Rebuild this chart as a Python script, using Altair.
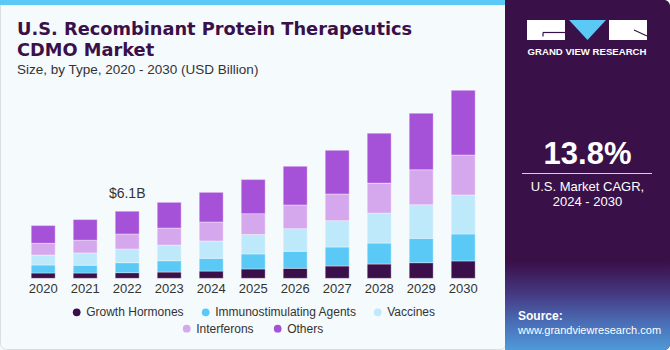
import altair as alt
import pandas as pd

# ---------------- data ----------------
years = [2020, 2021, 2022, 2023, 2024, 2025, 2026, 2027, 2028, 2029, 2030]
types = ["Growth Hormones", "Immunostimulating Agents", "Vaccines", "Interferons", "Others"]
growth_hormones = [0.48, 0.48, 0.51, 0.57, 0.66, 0.85, 0.91, 1.12, 1.30, 1.42, 1.58]
immunostimulating = [0.73, 0.71, 0.91, 1.03, 1.16, 1.37, 1.55, 1.73, 1.91, 2.22, 2.46]
vaccines = [0.91, 1.12, 1.25, 1.43, 1.58, 1.76, 2.06, 2.40, 2.73, 3.06, 3.55]
interferons = [1.07, 1.16, 1.37, 1.55, 1.73, 1.91, 2.16, 2.43, 2.73, 3.19, 3.64]
others = [1.61, 1.88, 2.07, 2.34, 2.70, 3.10, 3.52, 3.98, 4.55, 5.14, 5.89]
label_years = ["2022"]
label_texts = ["$6.1B"]
cagr_text = "13.8%"

series = [growth_hormones, immunostimulating, vaccines, interferons, others]
colors = ["#3A0F4A", "#5BC9F6", "#BDE9FA", "#D5A8EE", "#A652D8"]

rows = []
for i, t in enumerate(types):
    for yr, v in zip(years, series[i]):
        rows.append({"year": str(yr), "type": t, "value": v, "order": i})
df = pd.DataFrame(rows)
totals = pd.DataFrame({
    "year": [str(y) for y in years],
    "total": [sum(s[j] for s in series) for j in range(len(years))],
})
lab_df = pd.DataFrame({"year": label_years, "text": label_texts}).merge(totals, on="year")
year_df = pd.DataFrame({"year": [str(y) for y in years]})

# ---------------- styles ----------------
BG = "#F5FAFD"
PURPLE = "#3A1049"
FONT = "Liberation Sans"

xscale = alt.Scale(domain=[str(y) for y in years], range=[22.2, 484.2],
                   paddingInner=0.43, paddingOuter=0.215)
yscale = alt.Scale(domain=[0, 25.35], range=[278.3, 0], nice=False, zero=True)

one = pd.DataFrame({"a": [0]})


def box(x1, x2, y1, y2, **kw):
    return alt.Chart(one).mark_rect(**kw).encode(
        x=alt.value(x1), x2=alt.value(x2), y=alt.value(y1), y2=alt.value(y2))


def label(x, y, text, font=FONT, **kw):
    return alt.Chart(one).mark_text(text=text, font=font, **kw).encode(
        x=alt.value(x), y=alt.value(y))


layers = []
# left panel border
layers.append(box(0.5, 506, -6, 349.5, fill=BG, stroke="#D9DEE2", strokeWidth=1, cornerRadius=6))
# top strip
layers.append(box(0, 506, 0, 5, color="#5BC9F6"))
# right panel
layers.append(box(505, 670, 0, 350, color=PURPLE, cornerRadiusTopRight=6, cornerRadiusBottomRight=6))
layers.append(box(505, 670, 262, 350, cornerRadiusBottomRight=6, color=alt.Gradient(
    gradient="linear", x1=0, x2=0, y1=0, y2=1,
    stops=[alt.GradientStop(color=PURPLE, offset=0),
           alt.GradientStop(color="#45377F", offset=0.35),
           alt.GradientStop(color="#4A6FB8", offset=0.7),
           alt.GradientStop(color="#4E9AD8", offset=1)])))

# logo
layers.append(box(527, 565, 20, 40, color="white"))
layers.append(box(609, 647, 20, 40, color="white"))
layers.append(alt.Chart(one).mark_rule(color=PURPLE, strokeWidth=1.2).encode(
    x=alt.value(543), x2=alt.value(565), y=alt.value(32.5)))
layers.append(alt.Chart(one).mark_rule(color=PURPLE, strokeWidth=1.2).encode(
    x=alt.value(543), y=alt.value(32.5), y2=alt.value(36.5)))
layers.append(alt.Chart(one).mark_rule(color=PURPLE, strokeWidth=1.2).encode(
    x=alt.value(634), x2=alt.value(647), y=alt.value(30), y2=alt.value(36)))
layers.append(alt.Chart(one).mark_point(
    shape="M -1 -0.54 L 1 -0.54 L 0 0.54 Z", filled=True, opacity=1, size=1369,
    color="#5BC9F6").encode(x=alt.value(587.5), y=alt.value(30)))
layers.append(label(587, 52, "GRAND VIEW RESEARCH", fontSize=9.6, fontWeight="bold",
                    color="white", align="center", baseline="middle"))

# CAGR block
layers.append(label(587.5, 155, cagr_text, fontSize=31, fontWeight="bold", color="white",
                    align="center", baseline="middle"))
layers.append(alt.Chart(one).mark_rule(color="#D8D0DE", strokeWidth=1).encode(
    x=alt.value(522), x2=alt.value(652), y=alt.value(173.5)))
layers.append(label(587.5, 186.5, "U.S. Market CAGR,", fontSize=13, color="white",
                    align="center", baseline="middle"))
layers.append(label(587.5, 201.5, "2024 - 2030", fontSize=13, color="white",
                    align="center", baseline="middle"))
layers.append(label(518, 316, "Source:", fontSize=12, fontWeight="bold", color="white",
                    align="left", baseline="middle"))
layers.append(label(518, 331, "www.grandviewresearch.com", fontSize=11, color="white",
                    align="left", baseline="middle"))

# titles
layers.append(label(17, 35, "U.S. Recombinant Protein Therapeutics", font="DejaVu Sans",
                    fontSize=17.8, fontWeight="bold", color=PURPLE, align="left",
                    baseline="alphabetic"))
layers.append(label(17, 56, "CDMO Market", font="DejaVu Sans", fontSize=17.8,
                    fontWeight="bold", color=PURPLE, align="left", baseline="alphabetic"))
layers.append(label(17, 74, "Size, by Type, 2020 - 2030 (USD Billion)", fontSize=13.5,
                    color="#333333", align="left", baseline="alphabetic"))

# bars
bars = alt.Chart(df).mark_bar(stroke="white", strokeOpacity=0.45, strokeWidth=0.8).encode(
    x=alt.X("year:N", scale=xscale, axis=None),
    y=alt.Y("value:Q", scale=yscale, axis=None, stack="zero"),
    color=alt.Color("type:N", scale=alt.Scale(domain=types, range=colors), legend=None),
    order=alt.Order("order:Q", sort="ascending"),
)
layers.append(bars)

layers.append(alt.Chart(lab_df).mark_text(font=FONT, fontSize=14, color="#333333",
                                          baseline="middle", dy=-17).encode(
    x=alt.X("year:N", scale=xscale, axis=None),
    y=alt.Y("total:Q", scale=yscale, axis=None),
    text="text:N"))

layers.append(alt.Chart(year_df).mark_text(font=FONT, fontSize=13, color="#333333",
                                           baseline="middle").encode(
    x=alt.X("year:N", scale=xscale, axis=None),
    y=alt.value(288.5),
    text="year:N"))

# legend
legend_pos = [(76.7, 312.3), (205.7, 312.3), (377.7, 312.3), (186.7, 328.7), (277.7, 328.7)]
for t, c, (lx, ly) in zip(types, colors, legend_pos):
    layers.append(alt.Chart(one).mark_point(filled=True, opacity=1, size=60, color=c).encode(
        x=alt.value(lx), y=alt.value(ly)))
    layers.append(label(lx + 9.5, ly, t, fontSize=12, color="#333333", align="left",
                        baseline="middle"))

chart = alt.layer(*layers).properties(
    width=670, height=350, background=BG, padding=0,
    autosize=alt.AutoSizeParams(type="none"),
).configure_view(stroke=None)

chart.save("out.html", embed_options={"renderer": "svg", "actions": False})
